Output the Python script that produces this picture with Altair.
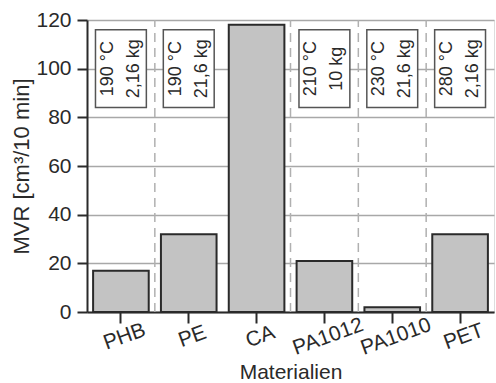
import altair as alt
import pandas as pd

# Melt volume rate per material
materials = ["PHB", "PE", "CA", "PA1012", "PA1010", "PET"]
mvr = [17, 32, 118, 21, 2, 32]

# Test conditions printed in the boxes (CA has none)
cond_materials = ["PHB", "PE", "PA1012", "PA1010", "PET"]
cond_temp = ["190 °C", "190 °C", "210 °C", "230 °C", "280 °C"]
cond_load = ["2,16 kg", "21,6 kg", "10 kg", "21,6 kg", "2,16 kg"]
box_low, box_high = 84, 116

# Dashed separators sit on the right edge of these categories
sep_after = ["PHB", "CA", "PA1012", "PA1010"]

y_max = 120
y_ticks = [0, 20, 40, 60, 80, 100, 120]

FONT = "Liberation Sans"
DARK = "#2a2a2a"

bars_df = pd.DataFrame({"Material": materials, "MVR": mvr})
cond_df = pd.DataFrame({
    "Material": cond_materials,
    "temp": cond_temp,
    "load": cond_load,
    "lo": [box_low] * len(cond_materials),
    "hi": [box_high] * len(cond_materials),
})
sep_df = pd.DataFrame({"Material": sep_after})

x_scale = alt.Scale(domain=materials, paddingInner=0, paddingOuter=0)
y_scale = alt.Scale(domain=[0, y_max], nice=False)

x_enc = alt.X(
    "Material:N", scale=x_scale, sort=materials, title="Materialien",
    axis=alt.Axis(
        labelAngle=340, labelAlign="center", labelBaseline="top",
        labelPadding=3, labelFontSize=21, labelColor=DARK, labelFont=FONT,
        tickSize=11, tickWidth=2, tickColor=DARK,
        domainColor=DARK, domainWidth=2,
        titleFontSize=21, titleFont=FONT, titleFontWeight="normal", titleColor=DARK,
        titleY=66, titleBaseline="alphabetic",
    ),
)
y_enc = alt.Y(
    "MVR:Q", scale=y_scale, title="MVR [cm³/10 min]",
    axis=alt.Axis(
        values=y_ticks, grid=True, gridColor="#a8a8a8", gridWidth=1.5,
        labelFontSize=21, labelColor=DARK, labelFont=FONT, labelPadding=6,
        tickSize=10, tickWidth=2, tickColor=DARK,
        domainColor=DARK, domainWidth=2,
        titleFontSize=22, titleFont=FONT, titleFontWeight="normal", titleColor=DARK,
        titleX=-66, titleY=146, titleAngle=270, titleAlign="center",
        titleBaseline="middle",
    ),
)

bars = alt.Chart(bars_df).mark_bar(
    width={"band": 0.82}, fill="#c3c3c3", stroke=DARK, strokeWidth=2
).encode(x=x_enc, y=y_enc)

seps = alt.Chart(sep_df).mark_rule(
    color="#b0b0b0", strokeWidth=1.5, strokeDash=[9, 6]
).encode(
    x=alt.X("Material:N", scale=x_scale, sort=materials, bandPosition=1),
    y=alt.datum(0),
    y2=alt.datum(y_max),
)

boxes = alt.Chart(cond_df).mark_bar(
    width={"band": 0.75}, fill="white", stroke="#555555", strokeWidth=1.5
).encode(
    x=alt.X("Material:N", scale=x_scale, sort=materials),
    y=alt.Y("lo:Q", scale=y_scale),
    y2="hi:Q",
)

# Two rotated lines per box; dy works in the rotated frame, so it shifts sideways
def cond_line(field, offset):
    return alt.Chart(cond_df).transform_calculate(
        mid="(datum.lo + datum.hi) / 2"
    ).mark_text(
        angle=270, align="center", baseline="middle", dy=offset,
        fontSize=18, font=FONT, color=DARK,
    ).encode(
        x=alt.X("Material:N", scale=x_scale, sort=materials),
        y=alt.Y("mid:Q", scale=y_scale),
        text=f"{field}:N",
    )

temp_text = cond_line("temp", -13)
load_text = cond_line("load", 13)

chart = alt.layer(seps, bars, boxes, temp_text, load_text).properties(
    width=407, height=292,
    autosize=alt.AutoSizeParams(type="none"),
    padding={"left": 87, "top": 20, "right": 2, "bottom": 71},
).configure_view(
    stroke=DARK, strokeWidth=2
).configure(background="white")

chart.save("out.html", embed_options={"renderer": "svg", "actions": False})
